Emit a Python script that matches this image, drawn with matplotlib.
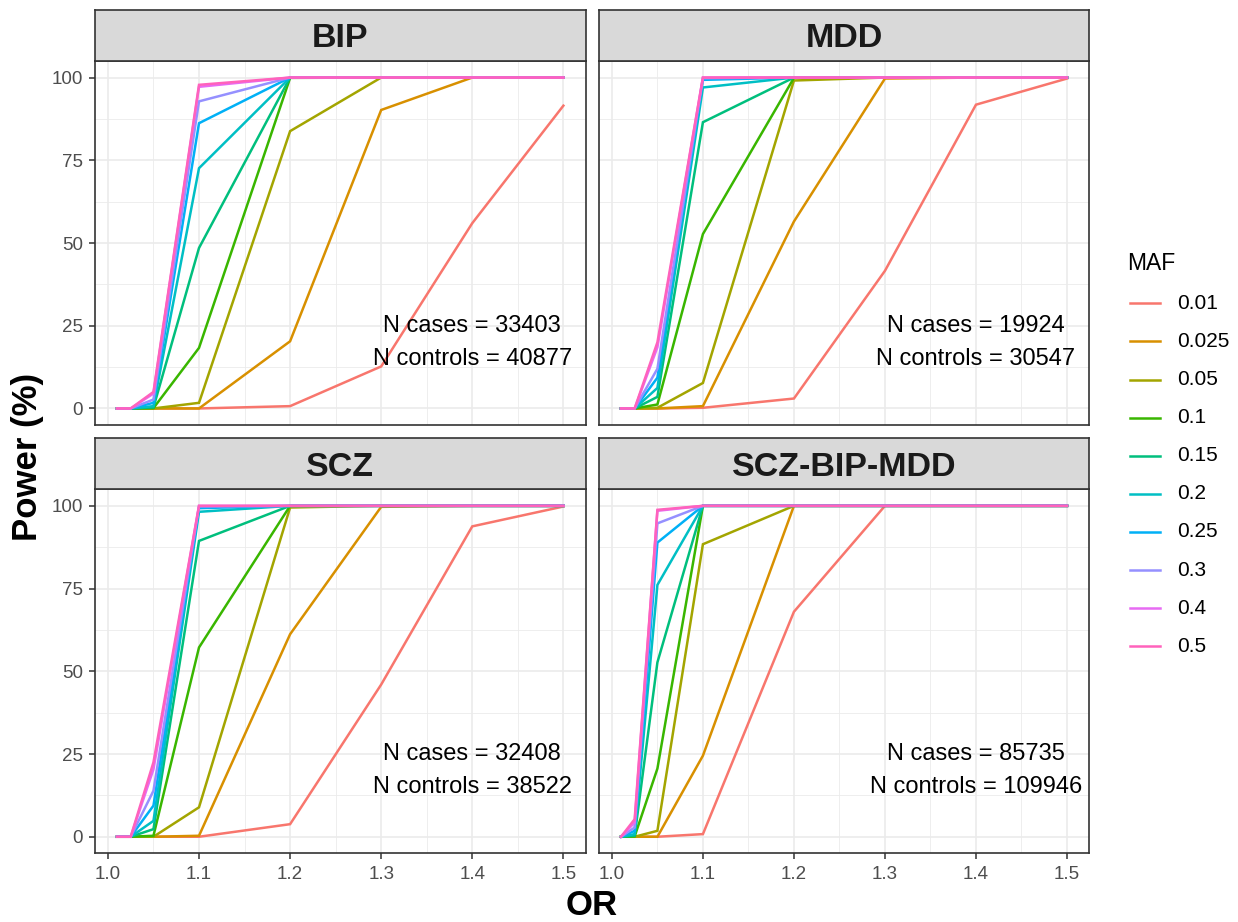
import matplotlib
matplotlib.use('Agg')
import matplotlib.pyplot as plt
from matplotlib.lines import Line2D

plt.rcParams['font.family'] = ['Liberation Sans', 'DejaVu Sans']

# odds ratios evaluated in the power calculation
odds_ratio = [1.01, 1.025, 1.05, 1.1, 1.2, 1.3, 1.4, 1.5]
maf_levels = ['0.01', '0.025', '0.05', '0.1', '0.15', '0.2', '0.25', '0.3', '0.4', '0.5']
maf_colors = ['#F8766D', '#D89000', '#A3A500', '#39B600', '#00BF7D',
              '#00BFC4', '#00B0F6', '#9590FF', '#E76BF3', '#FF62BC']

# power (%) per MAF level, one row per MAF, one column per OR
bip_power = [
    [0, 0, 0, 0, 0.7, 12.7, 56.0, 91.5],
    [0, 0, 0, 0, 20.3, 90.2, 100, 100],
    [0, 0, 0, 1.7, 83.8, 100, 100, 100],
    [0, 0, 0.1, 18.3, 99.9, 100, 100, 100],
    [0, 0, 0.3, 48.5, 100, 100, 100, 100],
    [0, 0, 0.7, 72.6, 100, 100, 100, 100],
    [0, 0, 1.7, 86.2, 100, 100, 100, 100],
    [0, 0, 2.7, 92.8, 100, 100, 100, 100],
    [0, 0, 4.5, 97.2, 100, 100, 100, 100],
    [0, 0, 5.0, 97.8, 100, 100, 100, 100],
]
mdd_power = [
    [0, 0, 0, 0.2, 3.0, 41.6, 91.8, 99.7],
    [0, 0, 0, 0.7, 56.5, 99.7, 100, 100],
    [0, 0, 0.2, 7.7, 99.1, 100, 100, 100],
    [0, 0, 1.2, 52.7, 99.9, 100, 100, 100],
    [0, 0, 3.5, 86.5, 100, 100, 100, 100],
    [0, 0, 6.2, 97.0, 100, 100, 100, 100],
    [0, 0, 9.3, 99.3, 100, 100, 100, 100],
    [0, 0, 12.0, 99.8, 100, 100, 100, 100],
    [0, 0, 18.5, 100, 100, 100, 100, 100],
    [0, 0, 20.0, 100, 100, 100, 100, 100],
]
scz_power = [
    [0, 0, 0, 0, 3.8, 46.0, 93.8, 99.8],
    [0, 0, 0, 0.3, 61.2, 99.7, 100, 100],
    [0, 0, 0, 8.9, 99.5, 100, 100, 100],
    [0, 0, 0.3, 57.2, 100, 100, 100, 100],
    [0, 0, 2.3, 89.4, 100, 100, 100, 100],
    [0, 0, 4.8, 98.2, 100, 100, 100, 100],
    [0, 0, 9.4, 99.3, 100, 100, 100, 100],
    [0, 0, 13.9, 99.8, 100, 100, 100, 100],
    [0, 0, 20.4, 100, 100, 100, 100, 100],
    [0, 0, 22.5, 100, 100, 100, 100, 100],
]
cross_power = [
    [0, 0, 0, 0.8, 68.0, 100, 100, 100],
    [0, 0, 0, 24.5, 100, 100, 100, 100],
    [0, 0, 1.8, 88.4, 100, 100, 100, 100],
    [0, 0.1, 20.6, 100, 100, 100, 100, 100],
    [0, 0.3, 52.7, 100, 100, 100, 100, 100],
    [0, 0.8, 76.1, 100, 100, 100, 100, 100],
    [0, 1.8, 88.9, 100, 100, 100, 100, 100],
    [0, 2.8, 94.7, 100, 100, 100, 100, 100],
    [0, 4.3, 98.5, 100, 100, 100, 100, 100],
    [0, 5.3, 98.8, 100, 100, 100, 100, 100],
]

panel_titles = ['BIP', 'MDD', 'SCZ', 'SCZ-BIP-MDD']
panel_power = [bip_power, mdd_power, scz_power, cross_power]
n_cases = [33403, 19924, 32408, 85735]
n_controls = [40877, 30547, 38522, 109946]

x_ticks = [1.0, 1.1, 1.2, 1.3, 1.4, 1.5]
y_ticks = [0, 25, 50, 75, 100]

W, H = 1238, 922
fig = plt.figure(figsize=(W / 100, H / 100), dpi=100)


def box(left, top, right, bottom):
    # pixel edges -> figure fraction rectangle
    return [left / W, 1 - bottom / H, (right - left) / W, (bottom - top) / H]


col_px = [(94.7, 585.7), (598.7, 1089.3)]
row_px = [((10, 61), (61, 425)), ((438.3, 489.3), (489.3, 853.3))]

dark = '#333333'
grid_col = '#EBEBEB'
x_span = max(odds_ratio) - min(odds_ratio)

for k, (title, power) in enumerate(zip(panel_titles, panel_power)):
    r, c = divmod(k, 2)
    left, right = col_px[c]
    (s_top, s_bot), (p_top, p_bot) = row_px[r]

    ax = fig.add_axes(box(left, p_top, right, p_bot))
    for maf, col, vals in zip(maf_levels, maf_colors, power):
        ax.plot(odds_ratio, vals, color=col, lw=1.8, solid_joinstyle='miter')

    ax.set_xlim(min(odds_ratio) - 0.05 * x_span, max(odds_ratio) + 0.05 * x_span)
    ax.set_ylim(-5, 105)
    ax.set_xticks(x_ticks)
    ax.set_xticklabels([f'{t:.1f}' for t in x_ticks])
    ax.set_xticks([1.05, 1.15, 1.25, 1.35, 1.45], minor=True)
    ax.set_yticks(y_ticks)
    ax.set_yticks([12.5, 37.5, 62.5, 87.5], minor=True)
    ax.grid(which='major', color=grid_col, lw=1.2)
    ax.grid(which='minor', color=grid_col, lw=0.6)
    ax.set_axisbelow(True)
    ax.tick_params(which='minor', length=0)
    ax.tick_params(which='major', length=4.5, width=1.1, color=dark,
                   labelcolor='#4D4D4D', labelsize=13.5)
    ax.tick_params(axis='x', pad=5)
    ax.tick_params(axis='y', pad=4)
    if c == 1:
        ax.tick_params(left=False, labelleft=False)
    if r == 0:
        ax.tick_params(bottom=False, labelbottom=False)
    for sp in ax.spines.values():
        sp.set_color(dark)
        sp.set_linewidth(1.2)

    ax.text(1.4, 25, f'N cases = {n_cases[k]}', ha='center', va='center', fontsize=17)
    ax.text(1.4, 15, f'N controls = {n_controls[k]}', ha='center', va='center', fontsize=17)

    # facet strip
    sax = fig.add_axes(box(left, s_top, right, s_bot))
    sax.set_facecolor('#D9D9D9')
    sax.set_xticks([])
    sax.set_yticks([])
    for sp in sax.spines.values():
        sp.set_color(dark)
        sp.set_linewidth(1.2)
    sax.text(0.5, 0.27, title, transform=sax.transAxes, ha='center', va='baseline',
             fontsize=24.5, fontweight='bold', color='#1A1A1A')

# shared axis titles
fig.text(592 / W, 1 - 915 / H, 'OR', ha='center', va='baseline',
         fontsize=25, fontweight='bold')
fig.text(28 / W, 1 - 457 / H, 'Power (%)', ha='center', va='center',
         rotation=90, fontsize=25, fontweight='bold')

# colour legend
fig.text(1127 / W, 1 - 270 / H, 'MAF', ha='left', va='baseline', fontsize=16.5)
for i, (maf, col) in enumerate(zip(maf_levels, maf_colors)):
    y = 1 - (303.3 + i * 38.1) / H
    fig.add_artist(Line2D([1130 / W, 1160 / W], [y, y], color=col, lw=1.8))
    fig.text(1176.7 / W, y, maf, ha='left', va='center', fontsize=15)

fig.savefig('out.png', dpi=100)
